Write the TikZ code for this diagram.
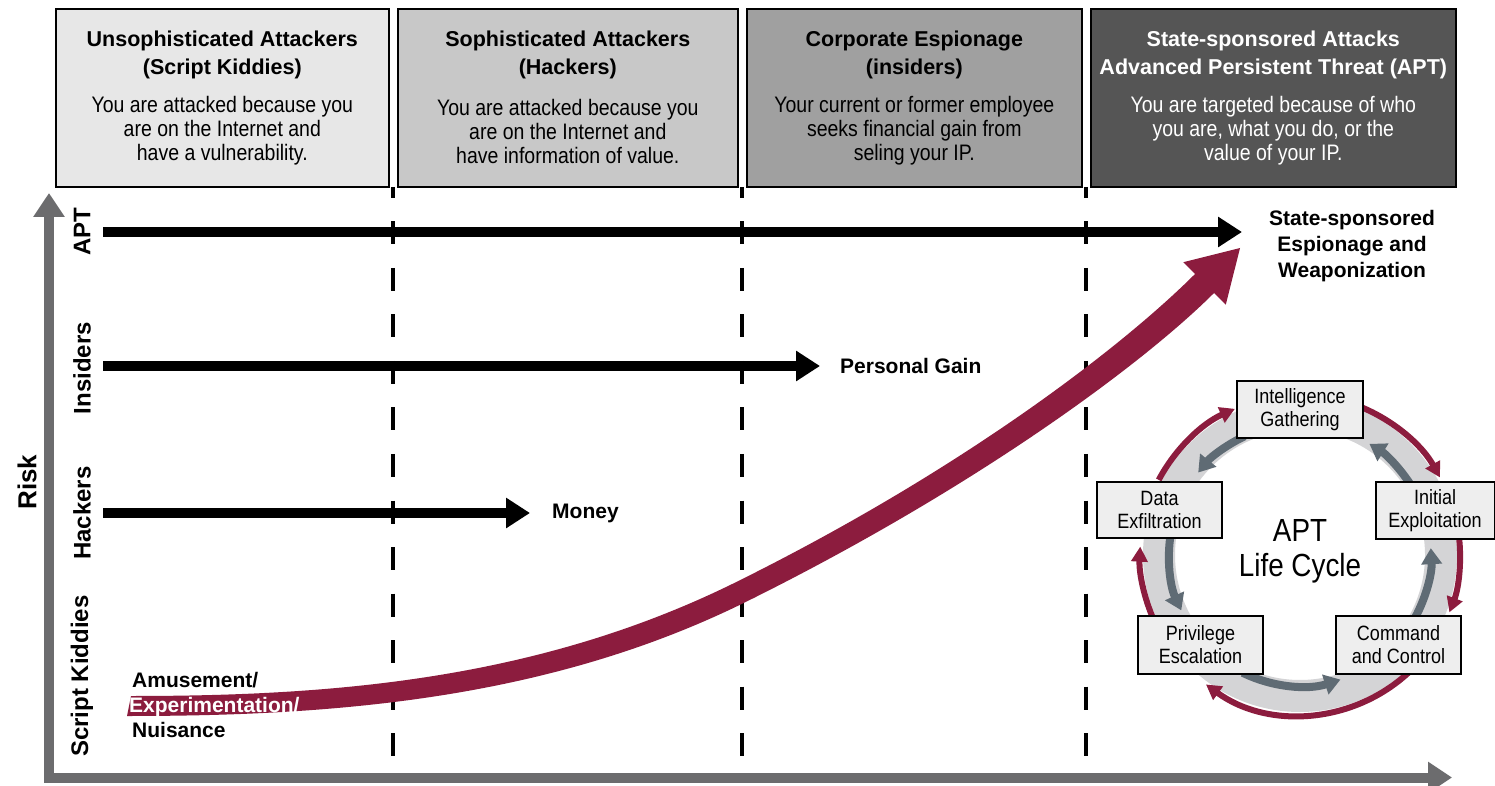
\documentclass[tikz,border=0pt]{standalone}
\usepackage{fontspec}
\setmainfont{Liberation Sans}
\newfontfamily\cnd{Liberation Sans}[FakeStretch=0.87]
\usetikzlibrary{arrows.meta,calc}

\definecolor{crim}{RGB}{140,28,62}
\definecolor{axisgray}{RGB}{108,108,110}
\definecolor{slate}{RGB}{95,107,116}
\definecolor{ringgray}{RGB}{212,212,214}
\definecolor{tierA}{RGB}{231,231,231}
\definecolor{tierB}{RGB}{200,200,200}
\definecolor{tierC}{RGB}{160,160,160}
\definecolor{tierD}{RGB}{85,85,85}
\definecolor{phasefill}{RGB}{238,238,238}

\tikzset{
  tier/.style={draw=black, line width=1.6pt, anchor=north west, minimum height=178pt, inner sep=0pt},
  tiertitle/.style={font=\bfseries\fontsize{21.5}{28.5}\selectfont, align=center, inner sep=0pt},
  tierbody/.style={font=\cnd\fontsize{22.4}{24}\selectfont, align=center, inner sep=0pt},
  divider/.style={line width=4pt, dash pattern=on 23pt off 23.5pt, dash phase=12pt},
  axisline/.style={draw=axisgray, line width=10pt, line join=miter,
    {Triangle[length=24pt,width=30pt]}-{Triangle[length=24pt,width=30pt]}},
  track/.style={line width=10pt, -{Triangle[length=24pt,width=29pt]}},
  axislabel/.style={font=\bfseries\fontsize{24}{28}\selectfont, rotate=90, inner sep=0pt},
  goal/.style={font=\bfseries\fontsize{21}{26}\selectfont, align=center, inner sep=0pt},
  motive/.style={font=\bfseries\fontsize{21}{25}\selectfont, anchor=base west, inner sep=0pt},
  phase/.style={draw=black, line width=2pt, fill=phasefill, inner sep=0pt, align=center,
    font=\cnd\fontsize{20.7}{23}\selectfont},
  ring/.style={draw=ringgray, line width=32pt},
  cwarc/.style={draw=crim, line width=6pt, -{Triangle[length=15pt,width=16pt]}},
  ccwarc/.style={draw=slate, line width=8pt, -{Triangle[length=16pt,width=20pt]}},
}

\begin{document}
\begin{tikzpicture}[x=1pt,y=1pt]
\useasboundingbox (0,0) rectangle (1495,785);
\fill[white] (0,0) rectangle (1495,785);

% ---- dashed column dividers ----
\coordinate (d1top) at (392.5,598); \coordinate (d1bot) at (392.5,8);
\coordinate (d2top) at (741.5,598); \coordinate (d2bot) at (741.5,8);
\coordinate (d3top) at (1085.5,598); \coordinate (d3bot) at (1085.5,8);
\draw[divider] (d1top) -- (d1bot);
\draw[divider] (d2top) -- (d2bot);
\draw[divider] (d3top) -- (d3bot);

% ---- attacker tiers ----
\node[tier, fill=tierA, minimum width=333pt] (t1) at (55,777) {};
\node[tier, fill=tierB, minimum width=340pt] (t2) at (397,777) {};
\node[tier, fill=tierC, minimum width=335pt] (t3) at (746,777) {};
\node[tier, fill=tierD, minimum width=365pt] (t4) at (1090,777) {};

\node[tiertitle] (t1h) at ($(t1.north)+(0,-47)$) {Unsophisticated Attackers\\(Script Kiddies)};
\node[tierbody]  (t1b) at ($(t1.north)+(0,-123)$) {You are attacked because you\\are on the Internet and\\have a vulnerability.};
\node[tiertitle] (t2h) at ($(t2.north)+(0,-47)$) {Sophisticated Attackers\\(Hackers)};
\node[tierbody]  (t2b) at ($(t2.north)+(0,-123)$) {You are attacked because you\\are on the Internet and\\have information of value.};
\node[tiertitle] (t3h) at ($(t3.north)+(0,-47)$) {Corporate Espionage\\(insiders)};
\node[tierbody]  (t3b) at ($(t3.north)+(0,-123)$) {Your current or former employee\\seeks financial gain from\\seling your IP.};
\node[tiertitle, text=white] (t4h) at ($(t4.north)+(0,-47)$) {State-sponsored Attacks\\Advanced Persistent Threat (APT)};
\node[tierbody, text=white]  (t4b) at ($(t4.north)+(0,-123)$) {You are targeted because of who\\you are, what you do, or the\\value of your IP.};

% ---- axes ----
\coordinate (ytip) at (49,592);
\coordinate (origin) at (49,7.5);
\coordinate (xtip) at (1452,7.5);
\draw[axisline] (ytip) -- (origin) -- (xtip);
\node[font=\bfseries\fontsize{26}{30}\selectfont, rotate=90, inner sep=0pt] (risk) at (27,303) {Risk};

\node[axislabel] (lapt) at (82,553) {APT};
\node[axislabel] (lins) at (82,417) {Insiders};
\node[axislabel] (lhck) at (82,272) {Hackers};
\node[axislabel] (lsk)  at (82,109) {Script Kiddies};

% ---- motivation tracks ----
\coordinate (aptstart) at (103,553);  \coordinate (aptend) at (1242,553);
\coordinate (insstart) at (103,419);  \coordinate (insend) at (820,419);
\coordinate (hckstart) at (103,272);  \coordinate (hckend) at (530,272);
\draw[track] (aptstart) -- (aptend);
\draw[track] (insstart) -- (insend);
\draw[track] (hckstart) -- (hckend);

\node[goal] (gapt) at (1352,539) {State-sponsored\\Espionage and\\Weaponization};
\node[goal, anchor=west] (gins) at (840,419) {Personal Gain};
\node[goal, anchor=west] (ghck) at (552,272) {Money};

% ---- rising risk curve: a band that widens towards its head ----
\fill[crim]
  (131,89) .. controls (328,89) and (536.1,103.9) .. (736.1,202.9)
  .. controls (966.1,316.9) and (1124.4,440.4) .. (1195.1,511.1)
  -- (1183.4,522.8) -- (1240,537) -- (1225.8,480.4) -- (1214.1,492.1)
  .. controls (1143.4,421.4) and (975.9,297.1) .. (745.9,183.1)
  .. controls (545.9,84.1) and (328,69) .. (127,69) -- cycle;

\node[motive] (m1) at (132,98) {Amusement/};
\node[motive, text=white] (m2) at (129,73) {Experimentation/};
\node[motive] (m3) at (132,48) {Nuisance};

% ---- APT life cycle ----
\coordinate (cyc) at (1300,230);
\draw[ring] (cyc) circle[radius=141];

% clockwise (outer)
\draw[cwarc] ([shift={(152:160)}]cyc) arc[start angle=152, end angle=114, radius=160];
\draw[cwarc] ([shift={(68:160)}]cyc) arc[start angle=68, end angle=29, radius=160];
\draw[cwarc] ([shift={(7:160)}]cyc) arc[start angle=7, end angle=-21, radius=160];
\draw[cwarc] ([shift={(-47:160)}]cyc) arc[start angle=-47, end angle=-126, radius=160];
\draw[cwarc] ([shift={(-156:160)}]cyc) arc[start angle=-156, end angle=-183, radius=160];

% counter-clockwise (inner)
\draw[ccwarc] ([shift={(115:131)}]cyc) arc[start angle=115, end angle=141, radius=131];
\draw[ccwarc] ([shift={(171:131)}]cyc) arc[start angle=171, end angle=205, radius=131];
\draw[ccwarc] ([shift={(-116:131)}]cyc) arc[start angle=-116, end angle=-72, radius=131];
\draw[ccwarc] ([shift={(-29:131)}]cyc) arc[start angle=-29, end angle=3, radius=131];
\draw[ccwarc] ([shift={(33:131)}]cyc) arc[start angle=33, end angle=58, radius=131];

\node[phase, minimum width=126pt, minimum height=57pt] (intel) at (1300,375.5) {Intelligence\\Gathering};
\node[phase, minimum width=125pt, minimum height=56pt] (exfil) at (1159.5,275) {Data\\Exfiltration};
\node[phase, minimum width=119pt, minimum height=57pt] (exploit) at (1435,274.5) {Initial\\Exploitation};
\node[phase, minimum width=125pt, minimum height=58pt] (priv) at (1200.5,140) {Privilege\\Escalation};
\node[phase, minimum width=125pt, minimum height=58pt] (cc) at (1398.5,140) {Command\\and Control};

\node[font=\cnd\fontsize{32}{35}\selectfont, align=center, inner sep=0pt] (cyctitle) at (1300,234) {APT\\Life Cycle};
\end{tikzpicture}
\end{document}
